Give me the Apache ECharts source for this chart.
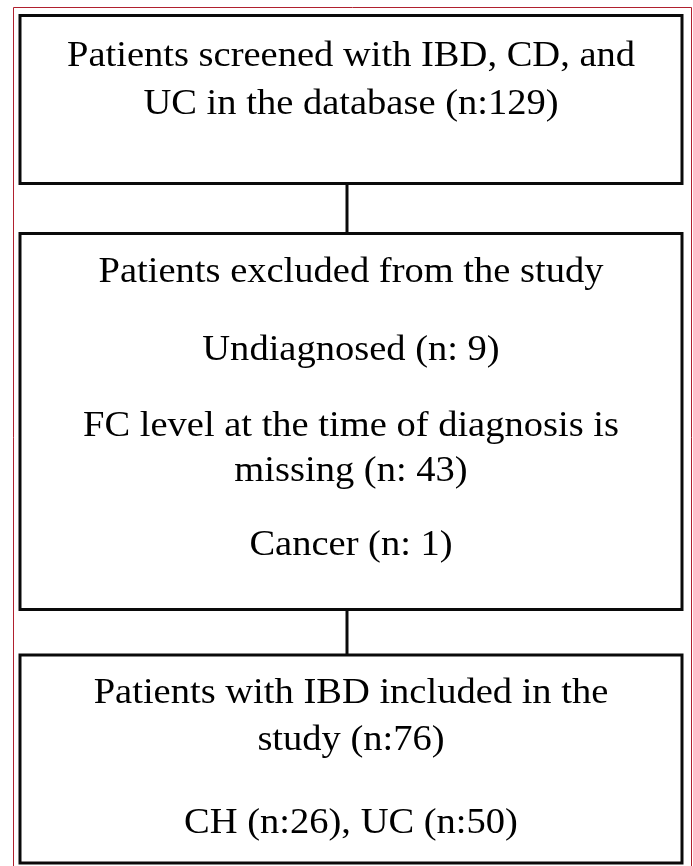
<!DOCTYPE html>
<html>
<head>
<meta charset="utf-8">
<script src="https://cdn.jsdelivr.net/npm/echarts@6/dist/echarts.min.js"></script>
<style>
  html, body { margin: 0; padding: 0; background: #fff; }
  #chart { width: 693px; height: 866px; }
</style>
</head>
<body>
<div id="chart"></div>
<script>
// flowchart texts
const screenedLines = ['Patients screened with IBD, CD, and', 'UC in the database (n:129)'];
const excludedLines = ['Patients excluded from the study', 'Undiagnosed (n: 9)',
  'FC level at the time of diagnosis is', 'missing (n: 43)', 'Cancer (n: 1)'];
const includedLines = ['Patients with IBD included in the', 'study (n:76)', 'CH (n:26), UC (n:50)'];

// layout (pixels)
const boxLeft = 20, boxRight = 682, linkX = 347;
const boxes = [
  { lines: screenedLines, top: 15.5, bottom: 183.5, ys: [56.5, 104.5] },
  { lines: excludedLines, top: 233.5, bottom: 609.5, ys: [272.5, 350.5, 427, 472, 546] },
  { lines: includedLines, top: 655, bottom: 863, ys: [694, 741, 824] }
];

const chart = echarts.init(document.getElementById('chart'));
const els = [];

// outer thin frame
els.push({
  type: 'rect',
  shape: { x: 13.5, y: 7.5, width: 678, height: 860 },
  style: { fill: 'none', stroke: '#b0202e', lineWidth: 1 }
});

boxes.forEach(function (b, i) {
  els.push({
    type: 'rect',
    shape: { x: boxLeft, y: b.top, width: boxRight - boxLeft, height: b.bottom - b.top },
    style: { fill: 'none', stroke: '#0a0a0a', lineWidth: 3 }
  });
  b.lines.forEach(function (t, j) {
    els.push({
      type: 'text',
      x: (boxLeft + boxRight) / 2,
      y: b.ys[j],
      scaleX: 1.07,
      style: {
        text: t,
        font: '36px "Liberation Serif"',
        fill: '#000',
        textAlign: 'center',
        textVerticalAlign: 'middle',
        align: 'center',
        verticalAlign: 'middle'
      }
    });
  });
  if (i < boxes.length - 1) {
    els.push({
      type: 'line',
      shape: { x1: linkX, y1: b.bottom, x2: linkX, y2: boxes[i + 1].top },
      style: { stroke: '#0a0a0a', lineWidth: 3 }
    });
  }
});

chart.setOption({
  animation: false,
  graphic: { elements: els }
});
</script>
</body>
</html>
